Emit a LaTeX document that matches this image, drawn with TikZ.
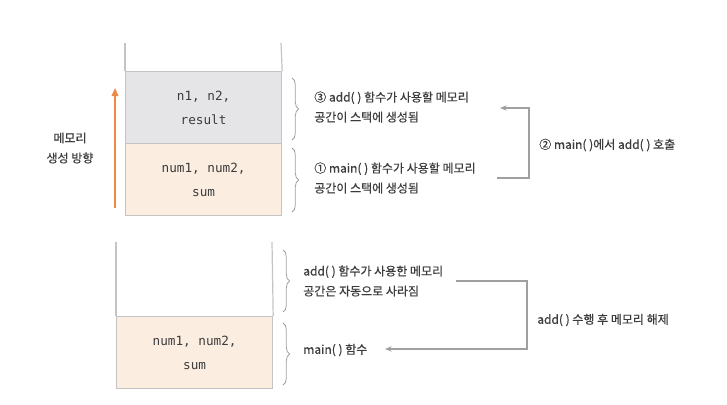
\documentclass[tikz,border=0pt]{standalone}
\usepackage{fontspec}
\setmainfont{Noto Sans CJK KR}[FakeBold=0.5]
\setmonofont{DejaVu Sans Mono}
\usetikzlibrary{decorations.pathreplacing,arrows.meta}
\definecolor{wallc}{HTML}{C4C4C4}
\definecolor{grayfill}{HTML}{E5E5E7}
\definecolor{peach}{HTML}{FBEDE0}
\definecolor{txt}{HTML}{3C3C3C}
\definecolor{arrowc}{HTML}{A0A0A0}
\definecolor{orangec}{HTML}{EE8A45}
\tikzset{
  wall/.style={draw=wallc, line width=0.9pt},
  cell/.style={draw=wallc, line width=0.9pt, anchor=north west, inner sep=0pt,
    minimum width=117pt, minimum height=54pt, align=center, text=txt,
    font=\ttfamily\fontsize{9.5}{18}\selectfont},
  lbl/.style={anchor=west, align=left, text=txt, inner sep=0pt,
    font=\fontsize{9}{15}\selectfont},
  brc/.style={draw=arrowc, line width=0.6pt, decorate, decoration={brace, amplitude=5pt}},
  conn/.style={draw=arrowc, line width=0.8pt, -{Stealth[length=5pt,width=4pt]}},
}
\begin{document}
\begin{tikzpicture}[x=0.75pt,y=-0.75pt]
\useasboundingbox (0,0) rectangle (727,404);
% top stack
\coordinate (tl) at (125,43);
\coordinate (tr) at (281,43);
\node[cell, fill=grayfill] (addbox) at (125,71) {n1, n2,\\result};
\node[cell, fill=peach] (mainbox) at (125,143) {num1, num2,\\sum};
\draw[wall] (tl) -- (addbox.north west);
\draw[wall] (tr) -- (addbox.north east);
% growth arrow
\coordinate (ga) at (115,208);
\coordinate (gb) at (115,88);
\draw[orangec, line width=1.2pt, -{Triangle[length=6pt,width=5pt]}] (ga) -- (gb);
\node[text=txt, align=center, inner sep=0pt, font=\fontsize{9}{15}\selectfont] (growlbl) at (70,148) {메모리\\생성 방향};
% braces top
\coordinate (b1a) at (292,78);
\coordinate (b1b) at (292,140);
\coordinate (b2a) at (292,148);
\coordinate (b2b) at (292,212);
\draw[brc] (b1a) -- (b1b);
\draw[brc] (b2a) -- (b2b);
\node[lbl] (t3) at (314,107) {③ add( ) 함수가 사용할 메모리\\공간이 스택에 생성됨};
\node[lbl] (t1) at (314,178) {① main( ) 함수가 사용할 메모리\\공간이 스택에 생성됨};
\coordinate (c1) at (497,178);
\coordinate (c2) at (529,178);
\coordinate (c3) at (529,108);
\coordinate (c4) at (500,108);
\draw[conn] (c1) -- (c2) -- (c3) -- (c4);
\node[lbl] (t2) at (539,145) {② main( )에서 add( ) 호출};
% bottom stack
\coordinate (bl) at (116,242);
\coordinate (br) at (272,242);
\node[cell, fill=peach] (mainbox2) at (116,316) {num1, num2,\\sum};
\draw[wall] (bl) -- (mainbox2.north west);
\draw[wall] (br) -- (mainbox2.north east);
\coordinate (b3a) at (283,250);
\coordinate (b3b) at (283,312);
\coordinate (b4a) at (283,323);
\coordinate (b4b) at (283,385);
\draw[brc] (b3a) -- (b3b);
\draw[brc] (b4a) -- (b4b);
\node[lbl] (t4) at (303,281) {add( ) 함수가 사용한 메모리\\공간은 자동으로 사라짐};
\node[lbl] (t5) at (303,350) {main( ) 함수};
\coordinate (d1) at (456,281);
\coordinate (d2) at (527,281);
\coordinate (d3) at (527,349);
\coordinate (d4) at (385,349);
\draw[conn] (d1) -- (d2) -- (d3) -- (d4);
\node[lbl] (t6) at (537,320) {add( ) 수행 후 메모리 해제};
\end{tikzpicture}
\end{document}
